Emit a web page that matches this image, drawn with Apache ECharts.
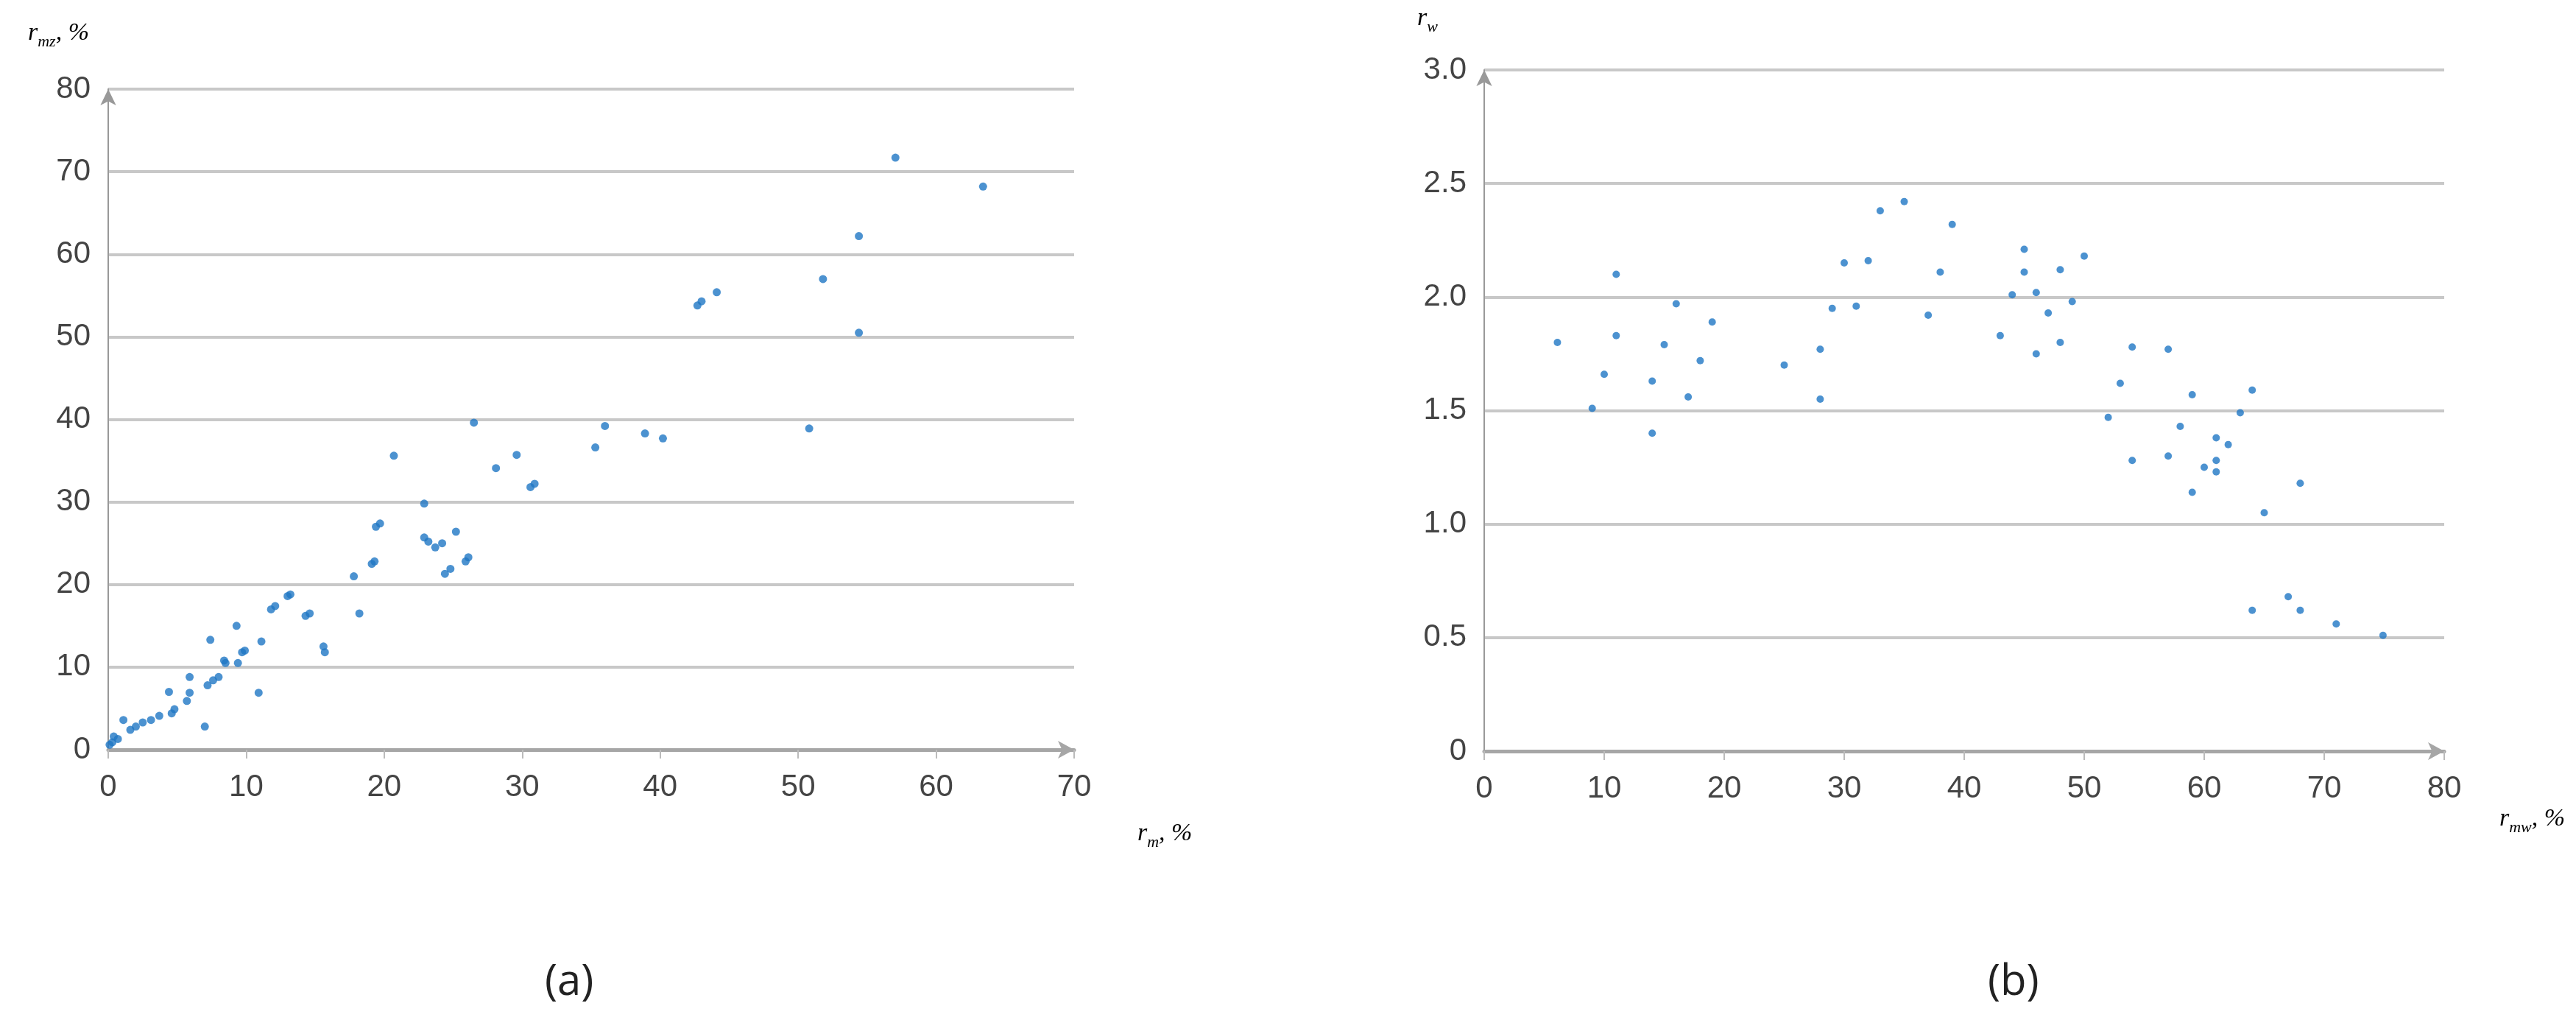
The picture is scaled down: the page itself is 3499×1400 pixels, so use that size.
<!DOCTYPE html>
<html><head><meta charset="utf-8">
<script src="https://cdn.jsdelivr.net/npm/echarts@6/dist/echarts.min.js"></script>
<style>html,body{margin:0;padding:0;background:#fff}#c{width:3499px;height:1400px}</style>
</head><body><div id="c"></div>
<script>
const aX = [57.05,63.4,54.4,51.8,54.4,44.1,43.0,42.7,50.8,36.0,35.3,38.9,40.2,26.5,20.7,29.6,28.1,30.6,30.9,22.9,19.4,19.7,22.9,23.2,23.7,24.2,25.2,24.4,24.8,25.9,26.1,19.1,19.3,17.8,18.2,13.2,13.0,11.8,12.1,14.3,14.6,15.6,15.7,11.1,10.9,9.3,9.7,9.4,9.9,7.4,8.4,8.5,8.0,7.6,7.2,7.0,5.9,5.9,5.7,4.4,4.8,4.6,3.7,3.1,2.5,2.0,1.6,1.1,0.7,0.3,0.1,0.4];
const aY = [71.7,68.2,62.2,57.0,50.5,55.4,54.3,53.8,38.9,39.2,36.6,38.3,37.7,39.6,35.6,35.7,34.1,31.8,32.2,29.8,27.0,27.4,25.7,25.2,24.5,25.0,26.4,21.3,21.9,22.8,23.3,22.5,22.8,21.0,16.5,18.8,18.6,17.0,17.4,16.2,16.5,12.5,11.8,13.1,6.9,15.0,11.8,10.5,12.0,13.3,10.8,10.5,8.8,8.4,7.8,2.8,8.8,6.9,5.9,7.0,4.9,4.4,4.1,3.6,3.3,2.8,2.4,3.6,1.3,0.9,0.6,1.6];
const bX = [6.1,9,10,11,11,14,14,15,16,17,18,19,25,28,28,29,30,31,32,33,35,37,38,39,43,44,45,45,46,46,47,48,48,49,50,52,53,54,54,57,57,58,59,59,60,61,61,61,62,63,64,64,65,67,68,68,71,74.9];
const bY = [1.80,1.51,1.66,2.10,1.83,1.63,1.40,1.79,1.97,1.56,1.72,1.89,1.70,1.77,1.55,1.95,2.15,1.96,2.16,2.38,2.42,1.92,2.11,2.32,1.83,2.01,2.21,2.11,2.02,1.75,1.93,2.12,1.80,1.98,2.18,1.47,1.62,1.78,1.28,1.77,1.30,1.43,1.57,1.14,1.25,1.38,1.28,1.23,1.35,1.49,1.59,0.62,1.05,0.68,1.18,0.62,0.56,0.51];
const aXTicks = [0,10,20,30,40,50,60,70];
const aYTicks = [0,10,20,30,40,50,60,70,80];
const bXTicks = [0,10,20,30,40,50,60,70,80];
const bYTicks = [0,0.5,1.0,1.5,2.0,2.5,3.0];

const FONT = '"Liberation Sans Narrow","Liberation Sans",sans-serif';
const lbl = {fontFamily: FONT, fontSize: 42, color: '#444'};
function xAxis(idx, ticks){
  return {gridIndex: idx, type:'value', min: ticks[0], max: ticks[ticks.length-1], interval: ticks[1]-ticks[0],
    axisLine:{show:true, lineStyle:{color:'#a6a6a6', width:5}, symbol:['none','arrow'], symbolSize:[18,22]},
    axisTick:{show:true, length:12, lineStyle:{color:'#bbb', width:2}},
    splitLine:{show:false},
    axisLabel:{...lbl, margin:30}};
}
function yAxis(idx, ticks, fmt){
  return {gridIndex: idx, type:'value', min: ticks[0], max: ticks[ticks.length-1], interval: ticks[1]-ticks[0],
    axisLine:{show:true, lineStyle:{color:'#999', width:2}, symbol:['none','arrow'], symbolSize:[16,22]},
    axisTick:{show:false},
    splitLine:{show:true, lineStyle:{color:'#c8c8c8', width:4}},
    axisLabel:{...lbl, margin:24, formatter: fmt}};
}
const chart = echarts.init(document.getElementById('c'));
const sub = {fontFamily:'"Liberation Serif",serif', fontStyle:'italic', fontSize:22, color:'#444', verticalAlign:'bottom', padding:[0,0,-6,0]};
const main = {fontFamily:'"Liberation Serif",serif', fontStyle:'italic', fontSize:34, color:'#444'};
chart.setOption({
  animation:false,
  grid:[{left:147, right:2040, top:121, bottom:382},{left:2016, right:179, top:95, bottom:380}],
  xAxis:[xAxis(0,aXTicks), xAxis(1,bXTicks)],
  yAxis:[yAxis(0,aYTicks, v=>String(v)), yAxis(1,bYTicks, v=> v===0?'0':v.toFixed(1))],
  series:[
    {type:'scatter', xAxisIndex:0, yAxisIndex:0, symbolSize:11, itemStyle:{color:'#1f77c4'}, data:aX.map((x,i)=>[x,aY[i]])},
    {type:'scatter', xAxisIndex:1, yAxisIndex:1, symbolSize:10, itemStyle:{color:'#1f77c4'}, data:bX.map((x,i)=>[x,bY[i]])}
  ],
  graphic:[
    {type:'text', left:38, top:28, style:{text:'{m|r}{s|mz}{m|, %}', rich:{m:main, s:sub}}},
    {type:'text', left:1545, top:1115, style:{text:'{m|r}{s|m}{m|, %}', rich:{m:main, s:sub}}},
    {type:'text', left:1925, top:8, style:{text:'{m|r}{s|w}', rich:{m:main, s:sub}}},
    {type:'text', left:3395, top:1095, style:{text:'{m|r}{s|mw}{m|, %}', rich:{m:main, s:sub}}},
    {type:'text', left:740, top:1305, style:{text:'(a)', font:'58px "Open Sans",sans-serif', fill:'#222'}},
    {type:'text', left:2700, top:1305, style:{text:'(b)', font:'58px "Open Sans",sans-serif', fill:'#222'}}
  ]
});
</script></body></html>
